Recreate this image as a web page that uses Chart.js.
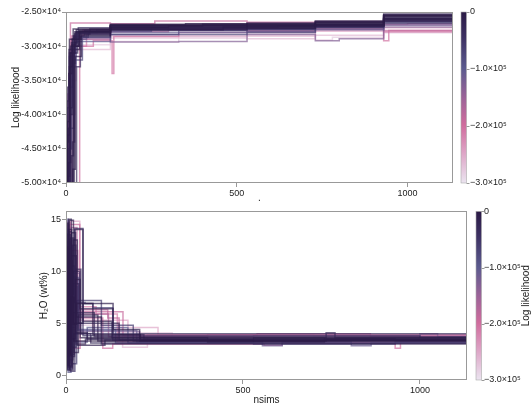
<!DOCTYPE html>
<html>
<head>
<meta charset="utf-8">
<script src="https://cdn.jsdelivr.net/npm/chart.js@4.4.1/dist/chart.umd.min.js"></script>
<style>
  html, body { margin: 0; padding: 0; background: #fff; }
  #wrap { position: relative; width: 531px; height: 406px; }
  canvas { position: absolute; left: 0; }
  #top-chart { top: 0; }
  #bottom-chart { top: 205px; }
</style>
</head>
<body>
<div id="wrap">
  <canvas id="top-chart" width="531" height="205"></canvas>
  <canvas id="bottom-chart" width="531" height="201"></canvas>
</div>
<script>
const nsimsMax = 1133;
const xTicks = [0, 500, 1000];
const llTicks = [-25000, -30000, -35000, -40000, -45000, -50000];
const h2oTicks = [0, 5, 10, 15];
const cbTicks = [0, -100000, -200000, -300000];

// colour of each chain on the colorbar (log likelihood)
const chainLL = [-5000, -15000, -30000, -90000, -10000, -190000, -205000, -280000, -20000,
  -110000, -8000, -170000, -40000, -70000, -25000, -250000, -12000, -130000,
  -3000, -18000, -60000, -185000, -7000, -22000, -265000, -35000, -100000, -2000, -215000, -14000];

// log likelihood traces: [nsims, value] at each accepted step
const llChains = [
  [[0,-160000],[5,-43000],[10,-33000],[18,-29000],[40,-27800],[130,-27300],[300,-27000],[530,-26900],[730,-26600],[930,-25700],[1133,-25600]],
  [[0,-210000],[8,-47000],[14,-31000],[25,-28200],[70,-27500],[130,-27100],[400,-26800],[530,-27100],[730,-26900],[930,-26000],[1133,-25800]],
  [[0,-120000],[3,-38000],[9,-30500],[22,-28500],[55,-27700],[130,-27400],[530,-27200],[620,-27000],[730,-27000],[930,-25900],[1133,-25700]],
  [[0,-90000],[12,-36000],[20,-29500],[33,-28000],[90,-27600],[130,-27800],[250,-27300],[530,-27400],[730,-27200],[930,-26300],[1133,-26100]],
  [[0,-250000],[15,-52000],[24,-30000],[38,-27900],[130,-26900],[350,-26700],[530,-26800],[730,-26500],[930,-25500],[1133,-25400]],
  [[0,-190000],[7,-40000],[13,-26600],[130,-26700],[260,-26300],[530,-26500],[730,-26400],[930,-26800],[1000,-26700],[1133,-26700]],
  [[0,-230000],[35,-60000],[40,-30000],[80,-29200],[135,-34000],[140,-28600],[330,-28000],[530,-27900],[730,-27600],[930,-29200],[945,-27700],[1133,-27500]],
  [[0,-200000],[10,-35000],[30,-29800],[130,-29300],[330,-28600],[530,-28200],[730,-29100],[780,-28700],[930,-28000],[1133,-27800]],
  [[0,-170000],[4,-36000],[12,-31000],[28,-28000],[130,-27000],[530,-26700],[730,-26300],[930,-25300],[1133,-25300]],
  [[0,-140000],[9,-45000],[17,-33000],[30,-29000],[60,-28300],[130,-28000],[330,-27700],[530,-27600],[730,-27300],[930,-26400],[1133,-26300]],
  [[0,-300000],[20,-48000],[27,-31500],[45,-28400],[130,-27600],[460,-27200],[530,-27300],[730,-26900],[930,-26100],[1133,-26000]],
  [[0,-110000],[6,-37000],[16,-29000],[130,-27900],[300,-27400],[530,-27500],[730,-27000],[930,-26900],[1133,-26800]],
  [[0,-180000],[11,-39000],[19,-30000],[36,-27300],[130,-27000],[530,-27000],[730,-26800],[930,-25800],[1133,-25600]],
  [[0,-130000],[14,-42000],[23,-32000],[48,-28700],[130,-28300],[530,-28000],[730,-27300],[930,-26600],[1133,-26400]],
  [[0,-160000],[2,-44000],[8,-34000],[16,-29500],[32,-27900],[130,-27300],[530,-27100],[730,-26700],[930,-26000],[1133,-25900]],
  [[0,-260000],[18,-40000],[26,-29000],[130,-28500],[530,-28500],[730,-27800],[930,-27300],[1133,-27100]],
  [[0,-200000],[13,-50000],[21,-30500],[40,-28200],[130,-27500],[530,-27300],[730,-27100],[930,-26200],[1133,-26000]],
  [[0,-150000],[10,-31000],[22,-28800],[130,-29400],[330,-29300],[530,-28300],[730,-29200],[800,-28900],[930,-27200],[1133,-27000]],
  [[0,-140000],[7,-42000],[13,-30000],[26,-27900],[130,-27200],[530,-27000],[730,-26800],[930,-25600],[1133,-25500]],
  [[0,-220000],[16,-46000],[22,-31000],[34,-28100],[130,-27500],[530,-27200],[730,-27000],[930,-26300],[1133,-26100]],
  [[0,-180000],[3,-39000],[10,-31500],[24,-28700],[65,-27900],[130,-27700],[530,-27600],[730,-27100],[930,-26600],[1133,-26500]],
  [[0,-240000],[9,-34000],[17,-28500],[50,-27600],[130,-27400],[530,-27700],[730,-27400],[930,-27700],[1133,-27600]],
  [[0,-190000],[12,-40000],[18,-29800],[30,-27600],[130,-26800],[530,-26600],[730,-26400],[930,-25400],[1133,-25300]],
  [[0,-150000],[5,-49000],[11,-34000],[20,-29000],[44,-28000],[130,-27300],[530,-27400],[730,-27200],[930,-26100],[1133,-25900]],
  [[0,-200000],[14,-38000],[22,-30500],[130,-28800],[530,-28900],[730,-28400],[930,-28000],[1133,-27800]],
  [[0,-260000],[25,-55000],[31,-33000],[42,-28600],[130,-27600],[530,-27400],[730,-27000],[930,-26400],[1133,-26200]],
  [[0,-170000],[6,-45000],[15,-32500],[28,-29300],[130,-28300],[330,-28000],[530,-27900],[730,-27600],[930,-26900],[1133,-26700]],
  [[0,-130000],[4,-41000],[10,-29000],[21,-27500],[130,-26900],[530,-26800],[730,-26500],[930,-25500],[1133,-25400]],
  [[0,-210000],[11,-36000],[20,-30000],[60,-28000],[130,-27600],[530,-27800],[730,-27500],[930,-27900],[1133,-27800]],
  [[0,-160000],[19,-44000],[25,-30000],[39,-27700],[130,-27100],[530,-27100],[730,-26900],[930,-26000],[1133,-25800]],
];

// H2O (wt%) traces
const h2oChains = [
  [[0,8.2],[3,14.6],[7,2.1],[12,11.0],[18,4.9],[30,6.9],[76,3.9],[210,3.4],[530,3.3],[735,3.5],[930,3.4],[1133,3.4]],
  [[0,3.5],[4,0.5],[9,13.8],[15,6.0],[25,14.0],[48,5.2],[130,3.6],[400,3.2],[730,3.3],[1133,3.3]],
  [[0,12.5],[5,1.2],[11,7.8],[20,10.0],[39,6.4],[133,3.9],[220,3.5],[530,3.6],[735,4.1],[760,3.6],[1133,3.6]],
  [[0,5.5],[2,15.0],[6,0.3],[14,9.5],[27,3.2],[60,4.6],[175,3.1],[530,3.0],[930,3.2],[1133,3.2]],
  [[0,10.5],[8,2.8],[13,13.2],[22,2.2],[35,5.8],[90,3.3],[530,3.5],[730,3.4],[1133,3.4]],
  [[0,14.8],[3,4.2],[10,14.5],[39,6.1],[161,3.8],[400,3.9],[540,4.0],[860,3.7],[1133,3.6]],
  [[0,2.3],[5,11.8],[16,2.6],[40,5.5],[104,2.6],[132,3.0],[560,2.9],[610,3.1],[930,2.6],[945,3.2],[1133,3.2]],
  [[0,7.0],[6,14.2],[12,3.5],[30,4.8],[150,4.1],[300,3.7],[1133,3.6]],
  [[0,0.8],[4,9.0],[10,1.5],[19,12.5],[28,3.0],[55,3.5],[1133,3.4]],
  [[0,13.0],[7,0.6],[17,8.5],[33,4.3],[200,3.2],[555,2.85],[611,3.2],[806,2.85],[862,3.1],[1133,3.1]],
  [[0,6.2],[2,1.8],[9,14.9],[21,5.0],[48,6.9],[133,4.4],[208,3.3],[730,3.5],[1133,3.5]],
  [[0,11.2],[6,3.0],[14,14.2],[31,5.9],[120,3.7],[530,3.8],[1133,3.7]],
  [[0,4.0],[5,12.2],[12,0.4],[25,14.1],[48,3.8],[1000,3.6],[1133,3.6]],
  [[0,9.6],[3,2.5],[11,10.5],[24,7.0],[54,6.9],[76,6.5],[132,3.4],[1133,3.3]],
  [[0,1.5],[6,13.5],[13,2.0],[23,4.0],[70,3.1],[1133,3.1]],
  [[0,14.3],[4,5.0],[12,14.8],[39,5.3],[175,4.6],[260,3.9],[700,3.8],[1133,3.8]],
  [[0,7.5],[9,0.9],[16,11.5],[29,5.6],[100,3.0],[1133,3.0]],
  [[0,12.0],[4,3.8],[12,9.8],[38,4.2],[208,3.6],[1000,4.0],[1050,3.7],[1133,3.7]],
  [[0,9.0],[3,1.0],[8,14.0],[16,3.5],[26,9.2],[40,3.6],[1133,3.5]],
  [[0,4.8],[6,12.8],[11,0.7],[18,8.8],[36,5.0],[150,3.4],[1133,3.3]],
  [[0,13.6],[4,2.2],[9,10.8],[17,1.1],[30,7.2],[100,4.8],[190,3.3],[1133,3.2]],
  [[0,6.8],[2,14.4],[7,3.3],[15,12.0],[33,6.3],[118,5.5],[150,3.9],[1133,3.8]],
  [[0,2.9],[5,9.7],[10,0.5],[20,13.0],[32,2.9],[110,3.4],[1133,3.4]],
  [[0,11.8],[3,5.3],[8,15.0],[15,1.8],[24,6.0],[80,3.7],[1133,3.6]],
  [[0,10.0],[6,2.4],[13,14.0],[26,5.6],[75,4.6],[160,2.7],[230,3.9],[1133,3.9]],
  [[0,0.6],[4,7.4],[9,13.1],[17,2.7],[28,10.2],[42,4.0],[1133,3.2]],
  [[0,14.0],[5,0.9],[11,6.6],[19,9.4],[35,4.4],[140,3.1],[1133,3.0]],
  [[0,5.9],[3,12.3],[8,1.9],[14,7.5],[22,3.3],[1133,3.4]],
  [[0,8.7],[7,14.7],[13,4.6],[30,6.6],[85,5.9],[145,3.2],[1133,3.2]],
  [[0,3.1],[2,10.3],[8,0.8],[16,13.7],[27,4.1],[60,3.5],[1133,3.5]],
];

// colormap, 0 = top of colorbar (0), 1 = bottom (-3e5)
const cmapStops = [[0, '#2b1a46'], [0.15, '#3d3163'], [0.33, '#5b5a8e'], [0.5, '#9b6398'],
  [0.66, '#d06c9d'], [0.82, '#dda3c5'], [1, '#ebe4f0']];

const FONT = 'Liberation Sans, Arial, sans-serif';
const TEXT = '#222';
const AXIS = '#999';

function hexRgb(h) {
  return [1, 3, 5].map((i) => parseInt(h.slice(i, i + 2), 16));
}

function cmap(v, alpha) {
  const t = Math.min(1, Math.max(0, -v / 300000));
  let k = 1;
  while (k < cmapStops.length - 1 && cmapStops[k][0] < t) k++;
  const [t0, c0] = cmapStops[k - 1];
  const [t1, c1] = cmapStops[k];
  const f = (t - t0) / (t1 - t0);
  const a = hexRgb(c0), b = hexRgb(c1);
  const rgb = a.map((x, i) => Math.round(x + (b[i] - x) * f));
  return `rgba(${rgb.join(',')},${alpha})`;
}

function fmtSci(v, exp, digits, minus) {
  if (v === 0) return '0';
  const sup = { 4: '\u2074', 5: '\u2075' }[exp];
  const m = (v / Math.pow(10, exp)).toFixed(digits).replace('-', minus);
  return `${m}\u00d710${sup}`;
}

const setTicks = (vals) => (s) => { s.ticks = vals.map((v) => ({ value: v })); };

const framePlugin = {
  id: 'frame',
  afterDatasetsDraw(chart, args, opts) {
    const { ctx, chartArea: a } = chart;
    ctx.save();
    ctx.strokeStyle = AXIS;
    ctx.lineWidth = 1;
    ctx.strokeRect(Math.round(a.left) + 0.5, Math.round(a.top) + 0.5,
      Math.round(a.right - a.left) - 1, Math.round(a.bottom - a.top) - 1);

    // colorbar
    const cb = chart.scales.cb;
    const x0 = a.right + opts.gap;
    const y0 = cb.getPixelForValue(0);
    const y1 = cb.getPixelForValue(-300000);
    const g = ctx.createLinearGradient(0, y0, 0, y1);
    cmapStops.forEach(([t, c]) => g.addColorStop(t, c));
    ctx.fillStyle = g;
    ctx.fillRect(x0, y0, opts.barW, y1 - y0);
    ctx.lineWidth = 0.6;
    ctx.strokeStyle = '#aaa';
    ctx.strokeRect(x0, y0, opts.barW, y1 - y0);
    ctx.lineWidth = 1;
    ctx.strokeStyle = AXIS;
    cb.ticks.forEach((t) => {
      const y = Math.round(cb.getPixelForValue(t.value)) + 0.5;
      ctx.beginPath();
      ctx.moveTo(x0 + opts.barW, y);
      ctx.lineTo(x0 + opts.barW + 3, y);
      ctx.stroke();
    });

    if (opts.title) {
      ctx.fillStyle = TEXT;
      ctx.font = `10px ${FONT}`;
      ctx.textAlign = 'center';
      ctx.textBaseline = 'middle';
      ctx.translate(opts.titleX, (a.top + a.bottom) / 2);
      ctx.rotate(-Math.PI / 2);
      ctx.fillText(opts.title, 0, 0);
    }
    ctx.restore();
  },
};

function makeDatasets(chains) {
  return chains.map((pts, i) => ({
    data: pts.map(([x, y]) => ({ x, y })),
    borderColor: cmap(chainLL[i], 0.7),
    borderWidth: 1.5,
    stepped: true,
    pointRadius: 0,
    fill: false,
    order: -chainLL[i],
  }));
}

function makeChart(id, cfg) {
  const tickFont = { family: FONT, size: 9 };
  const titleFont = { family: FONT, size: 10 };
  return new Chart(document.getElementById(id), {
    type: 'line',
    data: { datasets: makeDatasets(cfg.chains) },
    options: {
      responsive: false,
      animation: false,
      events: [],
      layout: { padding: { top: cfg.padTop, left: 0, right: 0, bottom: 0 } },
      plugins: {
        legend: { display: false },
        tooltip: { enabled: false },
        frame: { gap: cfg.gap, barW: 5.5, title: cfg.cbTitle, titleX: 526 },
      },
      scales: {
        x: {
          type: 'linear',
          min: 0,
          max: nsimsMax,
          afterBuildTicks: setTicks(xTicks),
          afterFit: (s) => { s.height = cfg.xHeight; },
          border: { display: false },
          grid: { drawOnChartArea: false, drawTicks: true, tickLength: 4, color: AXIS },
          ticks: { font: tickFont, color: TEXT, padding: 1, maxRotation: 0, callback: (v) => String(v) },
          title: { display: true, text: cfg.xTitle, font: titleFont, color: TEXT, padding: { top: 0, bottom: cfg.xTitlePad } },
        },
        y: {
          type: 'linear',
          min: cfg.yMin,
          max: cfg.yMax,
          afterBuildTicks: setTicks(cfg.yTicks),
          afterFit: (s) => { s.width = 66; },
          border: { display: false },
          grid: { drawOnChartArea: false, drawTicks: true, tickLength: 4, color: AXIS },
          ticks: { font: tickFont, color: TEXT, padding: 1, callback: cfg.yFmt },
          title: { display: true, text: cfg.yTitle, font: titleFont, color: TEXT, padding: { top: cfg.yTitlePad } },
        },
        cb: {
          type: 'linear',
          position: 'right',
          min: -300000,
          max: 0,
          afterBuildTicks: setTicks(cbTicks),
          afterFit: (s) => { s.width = cfg.cbWidth; },
          border: { display: false },
          grid: { drawOnChartArea: false, drawTicks: true, tickLength: 16, color: 'rgba(0,0,0,0)' },
          ticks: { font: tickFont, color: TEXT, padding: 1, callback: (v) => fmtSci(v, 5, 1, '\u2212') },
        },
      },
    },
    plugins: [framePlugin],
  });
}

makeChart('top-chart', {
  chains: llChains,
  padTop: 12,
  xHeight: 22,
  xTitle: '.',
  xTitlePad: 1,
  yMin: -50000,
  yMax: -25000,
  yTicks: llTicks,
  yFmt: (v) => fmtSci(v, 4, 2, '-'),
  yTitle: 'Log likelihood',
  yTitlePad: 10,
  cbWidth: 78,
  gap: 8,
  cbTitle: null,
});

makeChart('bottom-chart', {
  chains: h2oChains,
  padTop: 3,
  xHeight: 26,
  xTitle: 'nsims',
  xTitlePad: 0,
  yMin: -0.45,
  yMax: 15.75,
  yTicks: h2oTicks,
  yFmt: (v) => String(v),
  yTitle: 'H\u2082O (wt%)',
  yTitlePad: 38,
  cbWidth: 64,
  gap: 9,
  cbTitle: 'Log likelihood',
});
</script>
</body>
</html>
